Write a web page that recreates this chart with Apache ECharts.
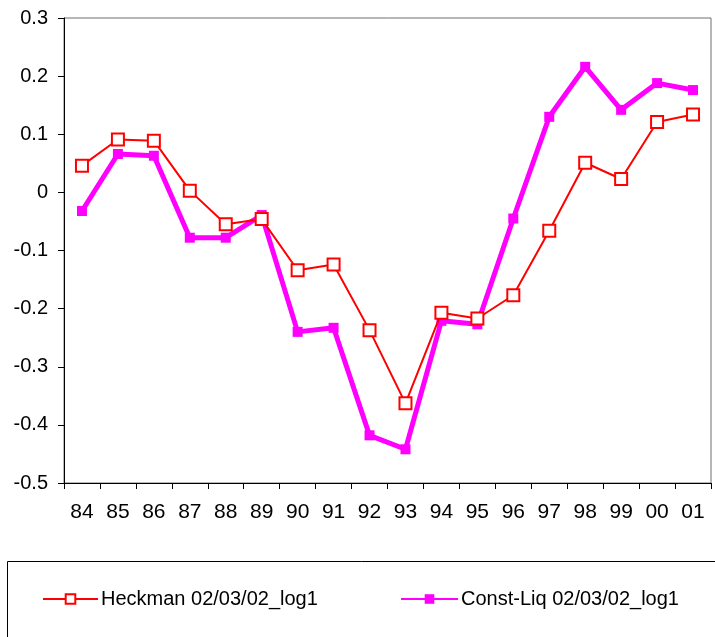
<!DOCTYPE html>
<html><head><meta charset="utf-8">
<script src="https://cdn.jsdelivr.net/npm/echarts@6/dist/echarts.min.js"></script>
<style>html,body{margin:0;padding:0;background:#fff}#c{width:715px;height:637px}</style>
</head><body><div id="c"></div>
<script>
const categories = ['84','85','86','87','88','89','90','91','92','93','94','95','96','97','98','99','00','01'];
const heckman = [0.046,0.091,0.089,0.003,-0.055,-0.046,-0.134,-0.124,-0.237,-0.363,-0.207,-0.217,-0.177,-0.066,0.051,0.023,0.121,0.134];
const constLiq = [-0.032,0.066,0.063,-0.078,-0.078,-0.039,-0.240,-0.233,-0.418,-0.442,-0.221,-0.227,-0.045,0.130,0.216,0.142,0.188,0.176];
const yTicks = {min:-0.5, max:0.3, interval:0.1};
const names = ['Heckman 02/03/02_log1','Const-Liq 02/03/02_log1'];

const font = 'Liberation Sans, Arial, sans-serif';
const chart = echarts.init(document.getElementById('c'));
chart.setOption({
  animation:false,
  backgroundColor:'#fff',
  grid:{left:64,right:4,top:18,bottom:154,show:true,borderColor:'#6e6e6e',borderWidth:1,containLabel:false},
  graphic:[{type:'rect',shape:{x:7.5,y:561.5,width:720,height:90},style:{fill:'none',stroke:'#000',lineWidth:1},z:-1}],
  legend:[
    {data:[names[0]],left:42,top:589,padding:0,itemWidth:55,itemHeight:12,itemGap:0,textStyle:{fontFamily:font,fontSize:20,color:'#000',padding:[0,0,0,-2]}},
    {data:[names[1]],left:400,top:589,padding:0,itemWidth:57,itemHeight:12,itemGap:0,textStyle:{fontFamily:font,fontSize:20,color:'#000',padding:[0,0,0,-2]}}
  ],
  xAxis:{type:'category',data:categories,boundaryGap:true,
    axisLine:{onZero:false,lineStyle:{color:'#000',width:1}},
    axisTick:{show:true,length:6,inside:false,lineStyle:{color:'#000'}},
    axisLabel:{fontFamily:font,fontSize:21,color:'#000',margin:19},
    splitLine:{show:false}},
  yAxis:{type:'value',min:yTicks.min,max:yTicks.max,interval:yTicks.interval,
    axisLine:{show:true,lineStyle:{color:'#000'}},
    axisTick:{show:true,length:6,lineStyle:{color:'#000'}},
    axisLabel:{fontFamily:font,fontSize:20,color:'#000',margin:16,
      formatter:v=>{const r=Math.round(v*10)/10; return r===0?'0':r.toFixed(1);}},
    splitLine:{show:false}},
  series:[
    {name:names[0],type:'line',data:heckman,z:3,
      lineStyle:{color:'#ff0000',width:2},itemStyle:{color:'#fff',borderColor:'#ff0000',borderWidth:2},
      symbol:'rect',symbolSize:12,showAllSymbol:true},
    {name:names[1],type:'line',data:constLiq,z:2,
      lineStyle:{color:'#ff00ff',width:5},itemStyle:{color:'#ff00ff',borderColor:'#ff00ff',borderWidth:0},
      symbol:'rect',symbolSize:10,showAllSymbol:true}
  ]
});
</script></body></html>
